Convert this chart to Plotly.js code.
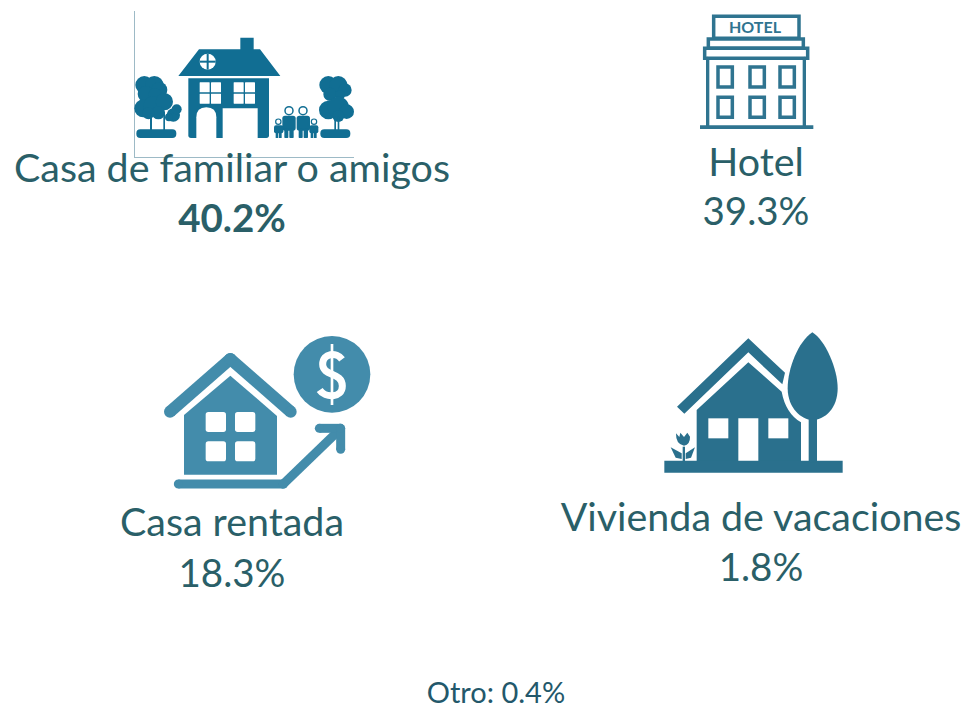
<!DOCTYPE html>
<html><head><meta charset="utf-8">
<script src="https://cdn.plot.ly/plotly-3.0.1.min.js"></script>
<style>html,body{margin:0;padding:0;background:#fff;overflow:hidden}</style>
</head><body><div id="chart" style="width:969px;height:706px"></div>
<script>
// Data
const categories = ["Casa de familiar o amigos","Hotel","Casa rentada","Vivienda de vacaciones"];
const shares = [40.2,39.3,18.3,1.8];
const otherLabel = "Otro";
const otherShare = 0.4;
// Label positions on the page-sized axes
const labelX = [232,756,232,761];
const nameY = [172,166,526,521];
const shareY = [222,215,577,571];
const boldShare = [true,false,false,false];

const W = 969, H = 706;
const TEXT = "#2A5F68", FONT = "Lato, 'Open Sans', sans-serif";
const shapes = [];
let ox=0, oy=0, col="#000";
const X=v=>+(ox+v/3).toFixed(2), Y=v=>+(oy+v/3).toFixed(2);
function group(a,b,c){ox=a;oy=b;col=c;}
function add(path,fill){shapes.push({type:"path",xref:"x",yref:"y",layer:"below",path,fillcolor:fill,line:{width:0}});}
function poly(pts,fill){add("M"+pts.map(p=>X(p[0])+","+Y(p[1])).join("L")+"Z",fill||col);}
function curve(str,fill){
  let i=0; const p=str.replace(/-?\d+(\.\d+)?/g,m=>(i++%2===0?X(+m):Y(+m)));
  add(p,fill||col);
}
function circ(cx,cy,r,fill,stroke,sw){shapes.push({type:"circle",xref:"x",yref:"y",layer:"below",
  x0:X(cx-r),x1:X(cx+r),y0:Y(cy-r),y1:Y(cy+r),fillcolor:fill||col,line:{width:sw||0,color:stroke||col}});}
function rr(x0,y0,x1,y1,r,fill){
  curve(`M${x0+r} ${y0}L${x1-r} ${y0}Q${x1} ${y0} ${x1} ${y0+r}L${x1} ${y1-r}Q${x1} ${y1} ${x1-r} ${y1}L${x0+r} ${y1}Q${x0} ${y1} ${x0} ${y1-r}L${x0} ${y0+r}Q${x0} ${y0} ${x0+r} ${y0}Z`,fill);
}
function box(x0,y0,x1,y1,sw){shapes.push({type:"rect",xref:"x",yref:"y",layer:"below",x0:X(x0),x1:X(x1),y0:Y(y0),y1:Y(y1),fillcolor:"rgba(0,0,0,0)",line:{width:sw,color:col}});}
function seg(a,b,c,d,w,fill){
  const L=Math.hypot(c-a,d-b),nx=-(d-b)/L*w/2,ny=(c-a)/L*w/2;
  poly([[a+nx,b+ny],[c+nx,d+ny],[c-nx,d-ny],[a-nx,b-ny]],fill);
  circ(a,b,w/2,fill);circ(c,d,w/2,fill);
}
function lineP(a,b,c,d,sw,color){shapes.push({type:"line",xref:"x",yref:"y",layer:"below",x0:a,y0:b,x1:c,y1:d,line:{width:sw,color}});}

// Frame lines at first icon
lineP(134.5,11,134.5,157,1,"#9DBAC6");
lineP(134,157.5,354,157.5,1,"#9DBAC6");

// Icon 1: family home
group(125,0,"#116E93");
poly([[160,228],[222,148],[346,148],[346,113],[386,113],[386,148],[405,148],[466,228]]);
curve("M190 235L432 235L432 406Q432 414 424 414L198 414Q190 414 190 406Z");
[[224,247],[258,247],[224,281],[258,281],[326,247],[360,247],[326,281],[360,281]].forEach(p=>rr(p[0],p[1],p[0]+30,p[1]+30,1,"#fff"));
curve("M214 414L214 352Q214 322 244 322Q274 322 274 352L274 414Z","#fff");
poly([[293,325],[398,325],[398,414],[293,414]],"#fff");
circ(248,185,24,"#fff");
poly([[245,161],[251,161],[251,209],[245,209]]);
poly([[224,182],[272,182],[272,188],[224,188]]);
// left trees
[[58,255,27],[88,256,28],[103,270,24],[62,282,24],[90,285,20],[55,325,27],[85,318,30],[118,305,26],[100,338,20],[70,340,18],[145,345,20],[155,328,15],[132,352,12]].forEach(c=>circ(c[0],c[1],c[2]));
poly([[75,340],[81,340],[81,392],[75,392]]);
poly([[115,335],[120,335],[120,392],[115,392]]);
rr(34,388,154,414,12);
// right trees
[[610,255,27],[640,255,27],[660,270,20],[615,283,20],[645,285,15],[610,330,28],[640,322,32],[665,335,22],[640,348,18]].forEach(c=>circ(c[0],c[1],c[2]));
poly([[628,350],[633,350],[633,392],[628,392]]);
poly([[638,350],[643,350],[643,392],[638,392]]);
rr(586,388,676,414,12);
// family
circ(492,332,12,"#fff",col,1.5); circ(534,332,12,"#fff",col,1.5);
circ(460,365,8,"#fff",col,1.2); circ(567,365,8,"#fff",col,1.2);
rr(472,347,512,392,8); rr(515,347,555,392,8);
rr(478,385,490,414,2); rr(493,385,506,414,2);
rr(521,385,533,414,2); rr(536,385,549,414,2);
rr(447,376,475,400,6); rr(553,376,580,400,6);
rr(452,395,460,414,1); rr(462,395,470,414,1);
rr(557,395,565,414,1); rr(567,395,575,414,1);

// Icon 2: hotel
group(690,5,"#2F7490");
box(71,34,327,100,3.5);
box(55,102,340,130,3.5);
box(44,130,353,160,3.5);
seg(53,160,53,366,10); seg(343,160,343,366,10);
poly([[30,361],[370,361],[370,372],[30,372]]);
[[84,186],[180,186],[270,186],[84,277],[180,277],[270,277]].forEach(p=>box(p[0],p[1],p[0]+43,p[1]+60,3.5));

// Icon 3: rented house
group(155,330,"#438CAB");
seg(45,245,226,87,36); seg(226,87,407,245,36);
poly([[87,255],[226,137],[366,258],[366,434],[87,434]]);
[[152,246],[240,246],[152,334],[240,334]].forEach(p=>rr(p[0],p[1],p[0]+61,p[1]+60,8,"#fff"));
seg(70,462,385,462,27); seg(385,462,556,297,27);
seg(493,295,556,295,27); seg(557,295,557,358,27);
circ(531,133,115);
poly([[527,42],[535,42],[535,225],[527,225]],"#fff");
shapes.push({type:"path",xref:"x",yref:"y",layer:"below",fillcolor:"rgba(0,0,0,0)",line:{width:7,color:"#fff"},
  path:`M${X(561)},${Y(88)}C${X(545)},${Y(66)} ${X(503)},${Y(68)} ${X(503)},${Y(103)}C${X(503)},${Y(140)} ${X(562)},${Y(125)} ${X(562)},${Y(168)}C${X(562)},${Y(205)} ${X(510)},${Y(205)} ${X(494)},${Y(180)}`});

// Icon 4: holiday home
group(655,325,"#2A708D");
poly([[66,245],[280,40],[390,143],[382,178],[280,82],[88,266]]);
curve("M125 255L280 112L380 200Q392 265 438 292L438 412L125 412Z");
poly([[28,407],[563,407],[563,443],[28,443]]);
poly([[160,280],[220,280],[220,340],[160,340]],"#fff");
poly([[340,280],[400,280],[400,340],[340,340]],"#fff");
poly([[250,280],[310,280],[310,407],[250,407]],"#fff");
curve("M472 22C430 50 398 130 398 190C398 250 440 285 472 285C510 285 548 250 548 190C548 130 510 45 472 22Z");
poly([[461,280],[486,280],[486,412],[461,412]]);
poly([[83,365],[90,365],[90,412],[83,412]]);
curve("M63 325L73 336L76 323L87 336L97 323L105 335Q106 358 87 362Q62 358 63 325Z");
poly([[47,367],[80,385],[80,402],[62,398]]);
poly([[120,367],[92,385],[92,402],[108,398]]);

const pct = v => v.toFixed(1)+"%";
const names = {type:"scatter",mode:"text",x:labelX,y:nameY,text:categories,textposition:"middle center",
  textfont:{family:FONT,size:39.4,color:TEXT},hoverinfo:"skip",cliponaxis:false};
const values = {type:"scatter",mode:"text",x:labelX,y:shareY,
  text:shares.map((v,i)=>boldShare[i]?"<b>"+pct(v)+"</b>":pct(v)),textposition:"middle center",
  textfont:{family:FONT,size:38.5,color:TEXT},hoverinfo:"skip",cliponaxis:false};
const other = {type:"scatter",mode:"text",x:[496],y:[696],text:[otherLabel+": "+pct(otherShare)],textposition:"middle center",
  textfont:{family:FONT,size:29,color:"#23586B"},hoverinfo:"skip",cliponaxis:false};
const sign = {type:"scatter",mode:"text",x:[755],y:[28.5],text:["<b>HOTEL</b>"],textposition:"middle center",
  textfont:{family:FONT,size:16,color:"#2F7490"},hoverinfo:"skip",cliponaxis:false};

Plotly.newPlot("chart",[names,values,other,sign],{
  width:W,height:H,margin:{l:0,r:0,t:0,b:0},showlegend:false,
  paper_bgcolor:"#fff",plot_bgcolor:"#fff",
  xaxis:{range:[0,W],visible:false,fixedrange:true},
  yaxis:{range:[H,0],visible:false,fixedrange:true},
  shapes
},{displayModeBar:false,staticPlot:true});
</script></body></html>
